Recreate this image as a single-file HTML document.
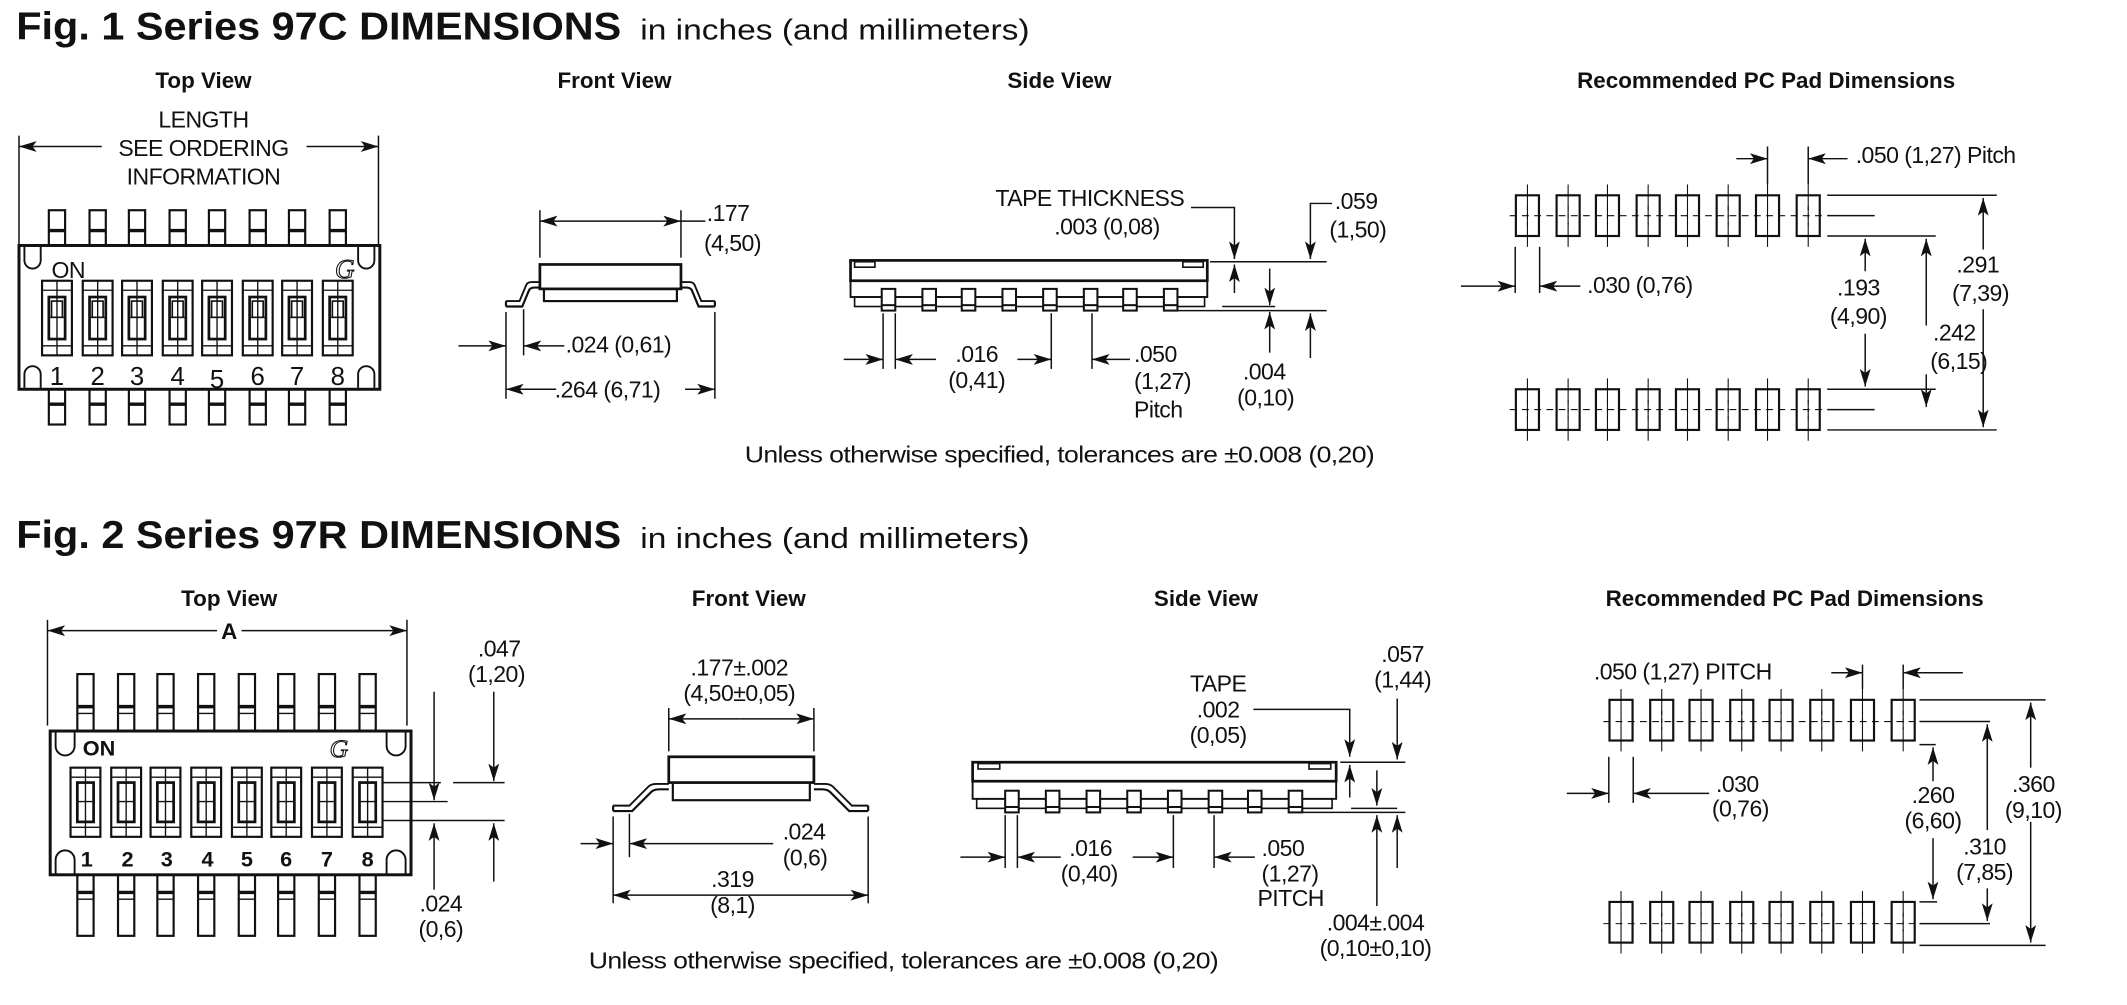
<!DOCTYPE html>
<html><head><meta charset="utf-8"><style>
html,body{margin:0;padding:0;background:#fff;}
svg{display:block;}
text{font-family:"Liberation Sans",sans-serif;fill:#111;}
.t{font-size:17px;letter-spacing:-0.4px;}
.h{font-size:16.5px;font-weight:bold;}
.ti{font-size:29px;font-weight:bold;}
.sub{font-size:21px;}
</style></head><body>
<svg width="2127" height="1005" viewBox="0 0 1568 741" preserveAspectRatio="none" xmlns="http://www.w3.org/2000/svg">
<defs>
<marker id="a" markerUnits="userSpaceOnUse" markerWidth="13" markerHeight="8" refX="13" refY="4" orient="auto"><path d="M0,0 L13,4 L0,8 L3,4 z" fill="#111"/></marker>
<g id="pinT"><rect x="-6" y="0" width="12" height="26" fill="#fff" stroke="#111" stroke-width="1.6"/><line x1="-6" y1="15" x2="6" y2="15" stroke="#111" stroke-width="2.5"/></g>
<g id="pinB"><rect x="-6" y="0" width="12" height="26" fill="#fff" stroke="#111" stroke-width="1.6"/><line x1="-6" y1="11" x2="6" y2="11" stroke="#111" stroke-width="2.5"/></g>
<g id="sw" fill="none" stroke="#111"><rect x="-11" y="0" width="22" height="55" stroke-width="1.6"/><line x1="-11" y1="7" x2="11" y2="7" stroke-width="1"/><line x1="-11" y1="48" x2="11" y2="48" stroke-width="1"/><line x1="0" y1="0" x2="0" y2="55" stroke-width="1"/><rect x="-6" y="12" width="12" height="31" stroke-width="2"/><rect x="-4" y="15" width="8" height="12" stroke-width="1.2"/><line x1="-6" y1="27" x2="6" y2="27" stroke-width="1"/></g>
<g id="pinT2"><rect x="-6" y="0" width="12" height="42" fill="#fff" stroke="#111" stroke-width="1.6"/><line x1="-6" y1="24" x2="6" y2="24" stroke="#111" stroke-width="2.5"/><line x1="-6" y1="29" x2="6" y2="29" stroke="#111" stroke-width="1"/></g>
<g id="pinB2"><rect x="-6" y="0" width="12" height="45" fill="#fff" stroke="#111" stroke-width="1.6"/><line x1="-6" y1="13" x2="6" y2="13" stroke="#111" stroke-width="2.5"/><line x1="-6" y1="18" x2="6" y2="18" stroke="#111" stroke-width="1"/></g>
<g id="sw2" fill="none" stroke="#111"><rect x="-11" y="0" width="22" height="51" stroke-width="1.6"/><line x1="-11" y1="7" x2="11" y2="7" stroke-width="1"/><line x1="-11" y1="44" x2="11" y2="44" stroke-width="1"/><line x1="0" y1="0" x2="0" y2="51" stroke-width="1"/><rect x="-6" y="11" width="12" height="29" stroke-width="2"/><line x1="-6" y1="25" x2="6" y2="25" stroke-width="1"/></g>
<g id="pad" fill="none" stroke="#111"><rect x="-8.5" y="0" width="17" height="30" stroke-width="1.6"/><line x1="0" y1="-8" x2="0" y2="38" stroke-width="0.8"/><line x1="0" y1="8" x2="0" y2="22" stroke-width="0.8" stroke-dasharray="3,3"/></g>
<g id="leg" fill="#fff" stroke="#111" stroke-width="1.5"><rect x="-5" y="0" width="10" height="16"/><line x1="-5" y1="12" x2="5" y2="12"/></g>
</defs>

<!-- ================= FIG 1 ================= -->
<text x="12" y="29" class="ti" textLength="446" lengthAdjust="spacingAndGlyphs">Fig. 1 Series 97C DIMENSIONS</text>
<text x="472" y="29" class="sub" textLength="287" lengthAdjust="spacingAndGlyphs">in inches (and millimeters)</text>
<text x="150" y="65" class="h" text-anchor="middle">Top View</text>
<text x="453" y="65" class="h" text-anchor="middle">Front View</text>
<text x="781" y="65" class="h" text-anchor="middle">Side View</text>
<text x="1302" y="65" class="h" text-anchor="middle">Recommended PC Pad Dimensions</text>

<!-- Top view 97C -->
<g stroke="#111" stroke-width="1.1" fill="none">
<line x1="14" y1="100" x2="14" y2="180"/><line x1="279" y1="100" x2="279" y2="180"/>
<line x1="75" y1="108" x2="14" y2="108" marker-end="url(#a)"/>
<line x1="226" y1="108" x2="279" y2="108" marker-end="url(#a)"/>
</g>
<text x="150" y="94" class="t" text-anchor="middle">LENGTH</text>
<text x="150" y="115" class="t" text-anchor="middle">SEE ORDERING</text>
<text x="150" y="136" class="t" text-anchor="middle">INFORMATION</text>
<use href="#pinT" x="42" y="155"/><use href="#pinT" x="72" y="155"/><use href="#pinT" x="101" y="155"/><use href="#pinT" x="131" y="155"/><use href="#pinT" x="160" y="155"/><use href="#pinT" x="190" y="155"/><use href="#pinT" x="219" y="155"/><use href="#pinT" x="249" y="155"/>
<use href="#pinB" x="42" y="287"/><use href="#pinB" x="72" y="287"/><use href="#pinB" x="101" y="287"/><use href="#pinB" x="131" y="287"/><use href="#pinB" x="160" y="287"/><use href="#pinB" x="190" y="287"/><use href="#pinB" x="219" y="287"/><use href="#pinB" x="249" y="287"/>
<rect x="14" y="181" width="266" height="106" fill="#fff" stroke="#111" stroke-width="2.2"/>
<g stroke="#111" stroke-width="1.4" fill="none">
<path d="M18,182 V192 A6,6 0 0 0 30,192 V182"/><path d="M264,182 V192 A6,6 0 0 0 276,192 V182"/>
<path d="M18,286 V276 A6,6 0 0 1 30,276 V286"/><path d="M264,286 V276 A6,6 0 0 1 276,276 V286"/>
</g>
<text x="38" y="205" class="t">ON</text>
<text x="247" y="205" style="font-family:'Liberation Serif',serif;font-style:italic;font-size:20px;fill:none;stroke:#111;stroke-width:0.8">G</text>
<use href="#sw" x="42" y="207"/><use href="#sw" x="72" y="207"/><use href="#sw" x="101" y="207"/><use href="#sw" x="131" y="207"/><use href="#sw" x="160" y="207"/><use href="#sw" x="190" y="207"/><use href="#sw" x="219" y="207"/><use href="#sw" x="249" y="207"/>
<text x="42" y="284" text-anchor="middle" style="font-size:19px">1</text><text x="72" y="284" text-anchor="middle" style="font-size:19px">2</text><text x="101" y="284" text-anchor="middle" style="font-size:19px">3</text><text x="131" y="284" text-anchor="middle" style="font-size:19px">4</text><text x="160" y="286" text-anchor="middle" style="font-size:19px">5</text><text x="190" y="284" text-anchor="middle" style="font-size:19px">6</text><text x="219" y="284" text-anchor="middle" style="font-size:19px">7</text><text x="249" y="284" text-anchor="middle" style="font-size:19px">8</text>

<!-- Front view 97C -->
<g stroke="#111" fill="none">
<rect x="398" y="195" width="104" height="18" stroke-width="2"/>
<rect x="401" y="213" width="98" height="9" stroke-width="1.6"/>
<path d="M373,226 H385 L390,214 Q391,212 394,212 H398" stroke-width="1.6"/>
<path d="M373,222 H383 L388,210 Q389,208 392,208 H398" stroke-width="1.4"/>
<path d="M527,226 H515 L510,214 Q509,212 506,212 H502" stroke-width="1.6"/>
<path d="M527,222 H517 L512,210 Q511,208 508,208 H502" stroke-width="1.4"/>
<line x1="373" y1="222" x2="373" y2="226" stroke-width="1.6"/><line x1="527" y1="222" x2="527" y2="226" stroke-width="1.6"/>
<g stroke-width="1.1">
<line x1="398" y1="155" x2="398" y2="190"/><line x1="502" y1="155" x2="502" y2="190"/>
<line x1="450" y1="163" x2="398" y2="163" marker-end="url(#a)"/><line x1="450" y1="163" x2="502" y2="163" marker-end="url(#a)"/>
<line x1="502" y1="163" x2="520" y2="163"/>
<line x1="373" y1="230" x2="373" y2="294"/><line x1="386" y1="228" x2="386" y2="262"/><line x1="527" y1="230" x2="527" y2="294"/>
<line x1="338" y1="255" x2="373" y2="255" marker-end="url(#a)"/>
<line x1="416" y1="255" x2="386" y2="255" marker-end="url(#a)"/>
<line x1="410" y1="287" x2="373" y2="287" marker-end="url(#a)"/>
<line x1="505" y1="287" x2="527" y2="287" marker-end="url(#a)"/>
</g></g>
<text x="521" y="163" class="t">.177</text>
<text x="519" y="185" class="t">(4,50)</text>
<text x="417" y="260" class="t">.024 (0,61)</text>
<text x="409" y="293" class="t">.264 (6,71)</text>

<!-- Side view 97C -->
<g stroke="#111" fill="none">
<rect x="627" y="192" width="263" height="15" stroke-width="2" fill="#fff"/>
<rect x="630" y="193" width="15" height="4" stroke-width="1.2"/><rect x="872" y="193" width="15" height="4" stroke-width="1.2"/>
<rect x="627" y="207" width="263" height="12" stroke-width="1.4"/>
<rect x="630" y="219" width="258" height="7" stroke-width="1.2"/>
</g>
<use href="#leg" x="655" y="213"/><use href="#leg" x="685" y="213"/><use href="#leg" x="714" y="213"/><use href="#leg" x="744" y="213"/><use href="#leg" x="774" y="213"/><use href="#leg" x="804" y="213"/><use href="#leg" x="833" y="213"/><use href="#leg" x="863" y="213"/>
<g stroke="#111" stroke-width="1.1" fill="none">
<line x1="892" y1="193" x2="978" y2="193"/><line x1="863" y1="229" x2="978" y2="229"/><line x1="901" y1="226" x2="940" y2="226"/>
<polyline points="878,153 910,153 910,191" marker-end="url(#a)"/>
<line x1="910" y1="216" x2="910" y2="195" marker-end="url(#a)"/>
<polyline points="982,150 966,150 966,191" marker-end="url(#a)"/>
<line x1="966" y1="264" x2="966" y2="231" marker-end="url(#a)"/>
<line x1="936" y1="198" x2="936" y2="225" marker-end="url(#a)"/>
<line x1="936" y1="260" x2="936" y2="230" marker-end="url(#a)"/>
<line x1="651" y1="231" x2="651" y2="272"/><line x1="660" y1="231" x2="660" y2="272"/><line x1="775" y1="231" x2="775" y2="272"/><line x1="805" y1="231" x2="805" y2="272"/>
<line x1="622" y1="265" x2="651" y2="265" marker-end="url(#a)"/>
<line x1="690" y1="265" x2="660" y2="265" marker-end="url(#a)"/>
<line x1="750" y1="265" x2="775" y2="265" marker-end="url(#a)"/>
<line x1="833" y1="265" x2="805" y2="265" marker-end="url(#a)"/>
</g>
<text x="873" y="152" class="t" text-anchor="end">TAPE THICKNESS</text>
<text x="855" y="173" class="t" text-anchor="end">.003 (0,08)</text>
<text x="984" y="154" class="t">.059</text>
<text x="980" y="175" class="t">(1,50)</text>
<text x="932" y="280" class="t" text-anchor="middle">.004</text>
<text x="933" y="299" class="t" text-anchor="middle">(0,10)</text>
<text x="720" y="267" class="t" text-anchor="middle">.016</text>
<text x="720" y="286" class="t" text-anchor="middle">(0,41)</text>
<text x="836" y="267" class="t">.050</text>
<text x="836" y="287" class="t">(1,27)</text>
<text x="836" y="308" class="t">Pitch</text>
<text x="549" y="341" class="t" textLength="464" lengthAdjust="spacingAndGlyphs">Unless otherwise specified, tolerances are  ±0.008 (0,20)</text>

<!-- PC pads 97C -->
<g>
<line x1="1113" y1="159" x2="1343" y2="159" stroke="#111" stroke-width="0.8" stroke-dasharray="5,4"/>
<line x1="1113" y1="302" x2="1343" y2="302" stroke="#111" stroke-width="0.8" stroke-dasharray="5,4"/>
<use href="#pad" x="1126" y="144"/><use href="#pad" x="1156" y="144"/><use href="#pad" x="1185" y="144"/><use href="#pad" x="1215" y="144"/><use href="#pad" x="1244" y="144"/><use href="#pad" x="1274" y="144"/><use href="#pad" x="1303" y="144"/><use href="#pad" x="1333" y="144"/>
<use href="#pad" x="1126" y="287"/><use href="#pad" x="1156" y="287"/><use href="#pad" x="1185" y="287"/><use href="#pad" x="1215" y="287"/><use href="#pad" x="1244" y="287"/><use href="#pad" x="1274" y="287"/><use href="#pad" x="1303" y="287"/><use href="#pad" x="1333" y="287"/>
</g>
<g stroke="#111" stroke-width="1.1" fill="none">
<line x1="1347" y1="144" x2="1472" y2="144"/><line x1="1347" y1="159" x2="1382" y2="159"/><line x1="1347" y1="174" x2="1427" y2="174"/>
<line x1="1347" y1="287" x2="1427" y2="287"/><line x1="1347" y1="302" x2="1382" y2="302"/><line x1="1347" y1="317" x2="1472" y2="317"/>
<line x1="1303" y1="108" x2="1303" y2="136"/><line x1="1333" y1="108" x2="1333" y2="136"/>
<line x1="1280" y1="117" x2="1303" y2="117" marker-end="url(#a)"/>
<line x1="1362" y1="117" x2="1333" y2="117" marker-end="url(#a)"/>
<line x1="1117" y1="182" x2="1117" y2="216"/><line x1="1135" y1="182" x2="1135" y2="216"/>
<line x1="1077" y1="211" x2="1117" y2="211" marker-end="url(#a)"/>
<line x1="1165" y1="211" x2="1135" y2="211" marker-end="url(#a)"/>
<line x1="1375" y1="200" x2="1375" y2="176" marker-end="url(#a)"/>
<line x1="1375" y1="246" x2="1375" y2="285" marker-end="url(#a)"/>
<line x1="1420" y1="240" x2="1420" y2="176" marker-end="url(#a)"/>
<line x1="1420" y1="276" x2="1420" y2="300" marker-end="url(#a)"/>
<line x1="1462" y1="184" x2="1462" y2="146" marker-end="url(#a)"/>
<line x1="1462" y1="228" x2="1462" y2="315" marker-end="url(#a)"/>
</g>
<text x="1368" y="120" class="t">.050 (1,27) Pitch</text>
<text x="1170" y="216" class="t">.030 (0,76)</text>
<text x="1370" y="218" class="t" text-anchor="middle">.193</text>
<text x="1370" y="239" class="t" text-anchor="middle">(4,90)</text>
<text x="1425" y="251" class="t">.242</text>
<text x="1423" y="272" class="t">(6,15)</text>
<text x="1458" y="201" class="t" text-anchor="middle">.291</text>
<text x="1460" y="222" class="t" text-anchor="middle">(7,39)</text>

<!-- ================= FIG 2 ================= -->
<text x="12" y="404" class="ti" textLength="446" lengthAdjust="spacingAndGlyphs">Fig. 2 Series 97R DIMENSIONS</text>
<text x="472" y="404" class="sub" textLength="287" lengthAdjust="spacingAndGlyphs">in inches (and millimeters)</text>
<text x="169" y="447" class="h" text-anchor="middle">Top View</text>
<text x="552" y="447" class="h" text-anchor="middle">Front View</text>
<text x="889" y="447" class="h" text-anchor="middle">Side View</text>
<text x="1323" y="447" class="h" text-anchor="middle">Recommended PC Pad Dimensions</text>

<!-- Top view 97R -->
<g stroke="#111" stroke-width="1.1" fill="none">
<line x1="35" y1="457" x2="35" y2="535"/><line x1="300" y1="457" x2="300" y2="535"/>
<line x1="160" y1="465" x2="35" y2="465" marker-end="url(#a)"/>
<line x1="178" y1="465" x2="300" y2="465" marker-end="url(#a)"/>
</g>
<text x="169" y="471" class="h" text-anchor="middle">A</text>
<use href="#pinT2" x="63" y="497"/><use href="#pinT2" x="93" y="497"/><use href="#pinT2" x="122" y="497"/><use href="#pinT2" x="152" y="497"/><use href="#pinT2" x="182" y="497"/><use href="#pinT2" x="211" y="497"/><use href="#pinT2" x="241" y="497"/><use href="#pinT2" x="271" y="497"/>
<use href="#pinB2" x="63" y="645"/><use href="#pinB2" x="93" y="645"/><use href="#pinB2" x="122" y="645"/><use href="#pinB2" x="152" y="645"/><use href="#pinB2" x="182" y="645"/><use href="#pinB2" x="211" y="645"/><use href="#pinB2" x="241" y="645"/><use href="#pinB2" x="271" y="645"/>
<rect x="37" y="539" width="266" height="106" fill="#fff" stroke="#111" stroke-width="2.2"/>
<g stroke="#111" stroke-width="1.4" fill="none">
<path d="M41,540 V550 A7,7 0 0 0 55,550 V540"/><path d="M285,540 V550 A7,7 0 0 0 299,550 V540"/>
<path d="M41,644 V634 A7,7 0 0 1 55,634 V644"/><path d="M285,644 V634 A7,7 0 0 1 299,634 V644"/>
</g>
<text x="61" y="557" style="font-size:16px;font-weight:bold">ON</text>
<text x="243" y="558" style="font-family:'Liberation Serif',serif;font-style:italic;font-size:19px;fill:none;stroke:#111;stroke-width:0.8">G</text>
<use href="#sw2" x="63" y="566"/><use href="#sw2" x="93" y="566"/><use href="#sw2" x="122" y="566"/><use href="#sw2" x="152" y="566"/><use href="#sw2" x="182" y="566"/><use href="#sw2" x="211" y="566"/><use href="#sw2" x="241" y="566"/><use href="#sw2" x="271" y="566"/>
<text x="64" y="639" text-anchor="middle" style="font-size:16px;font-weight:bold">1</text><text x="94" y="639" text-anchor="middle" style="font-size:16px;font-weight:bold">2</text><text x="123" y="639" text-anchor="middle" style="font-size:16px;font-weight:bold">3</text><text x="153" y="639" text-anchor="middle" style="font-size:16px;font-weight:bold">4</text><text x="182" y="639" text-anchor="middle" style="font-size:16px;font-weight:bold">5</text><text x="211" y="639" text-anchor="middle" style="font-size:16px;font-weight:bold">6</text><text x="241" y="639" text-anchor="middle" style="font-size:16px;font-weight:bold">7</text><text x="271" y="639" text-anchor="middle" style="font-size:16px;font-weight:bold">8</text>
<g stroke="#111" stroke-width="1.1" fill="none">
<line x1="282" y1="577" x2="325" y2="577"/><line x1="334" y1="577" x2="372" y2="577"/>
<line x1="282" y1="591" x2="330" y2="591"/>
<line x1="282" y1="605" x2="372" y2="605"/>
<line x1="320" y1="510" x2="320" y2="590" marker-end="url(#a)"/>
<line x1="364" y1="510" x2="364" y2="576" marker-end="url(#a)"/>
<line x1="320" y1="656" x2="320" y2="607" marker-end="url(#a)"/>
<line x1="364" y1="650" x2="364" y2="607" marker-end="url(#a)"/>
</g>
<text x="368" y="484" class="t" text-anchor="middle">.047</text>
<text x="366" y="503" class="t" text-anchor="middle">(1,20)</text>
<text x="325" y="672" class="t" text-anchor="middle">.024</text>
<text x="325" y="691" class="t" text-anchor="middle">(0,6)</text>

<!-- Front view 97R -->
<g stroke="#111" fill="none">
<rect x="493" y="558" width="107" height="19" stroke-width="2"/>
<rect x="496" y="577" width="101" height="13" stroke-width="1.6"/>
<path d="M452,598 H466 L480,584 Q482,582 486,582 H493" stroke-width="1.6"/>
<path d="M452,594 H464 L478,580 Q480,578 484,578 H493" stroke-width="1.4"/>
<path d="M640,598 H626 L612,584 Q610,582 606,582 H600" stroke-width="1.6"/>
<path d="M640,594 H628 L614,580 Q612,578 608,578 H600" stroke-width="1.4"/>
<line x1="452" y1="594" x2="452" y2="598" stroke-width="1.6"/><line x1="640" y1="594" x2="640" y2="598" stroke-width="1.6"/>
<g stroke-width="1.1">
<line x1="493" y1="522" x2="493" y2="554"/><line x1="600" y1="522" x2="600" y2="554"/>
<line x1="546" y1="530" x2="493" y2="530" marker-end="url(#a)"/><line x1="546" y1="530" x2="600" y2="530" marker-end="url(#a)"/>
<line x1="452" y1="602" x2="452" y2="666"/><line x1="464" y1="600" x2="464" y2="632"/><line x1="640" y1="602" x2="640" y2="666"/>
<line x1="428" y1="622" x2="452" y2="622" marker-end="url(#a)"/>
<line x1="570" y1="622" x2="464" y2="622" marker-end="url(#a)"/>
<line x1="546" y1="660" x2="452" y2="660" marker-end="url(#a)"/>
<line x1="546" y1="660" x2="640" y2="660" marker-end="url(#a)"/>
</g></g>
<text x="545" y="498" class="t" text-anchor="middle">.177±.002</text>
<text x="545" y="517" class="t" text-anchor="middle">(4,50±0,05)</text>
<text x="577" y="619" class="t">.024</text>
<text x="577" y="638" class="t">(0,6)</text>
<rect x="520" y="640" width="44" height="14" fill="#fff"/>
<text x="540" y="654" class="t" text-anchor="middle">.319</text>
<rect x="518" y="662" width="44" height="14" fill="#fff"/>
<text x="540" y="673" class="t" text-anchor="middle">(8,1)</text>

<!-- Side view 97R -->
<g stroke="#111" fill="none">
<rect x="717" y="562" width="268" height="14" stroke-width="2" fill="#fff"/>
<rect x="721" y="563" width="16" height="4" stroke-width="1.2"/><rect x="965" y="563" width="16" height="4" stroke-width="1.2"/>
<rect x="717" y="576" width="268" height="13" stroke-width="1.4"/>
<rect x="720" y="589" width="262" height="7" stroke-width="1.2"/>
</g>
<use href="#leg" x="746" y="583"/><use href="#leg" x="776" y="583"/><use href="#leg" x="806" y="583"/><use href="#leg" x="836" y="583"/><use href="#leg" x="866" y="583"/><use href="#leg" x="896" y="583"/><use href="#leg" x="925" y="583"/><use href="#leg" x="955" y="583"/>
<g stroke="#111" stroke-width="1.1" fill="none">
<line x1="988" y1="562" x2="1036" y2="562"/><line x1="960" y1="599" x2="1036" y2="599"/><line x1="996" y1="596" x2="1030" y2="596"/>
<polyline points="924,523 995,523 995,558" marker-end="url(#a)"/>
<line x1="995" y1="588" x2="995" y2="564" marker-end="url(#a)"/>
<line x1="1030" y1="515" x2="1030" y2="560" marker-end="url(#a)"/>
<line x1="1030" y1="640" x2="1030" y2="601" marker-end="url(#a)"/>
<line x1="1015" y1="568" x2="1015" y2="594" marker-end="url(#a)"/>
<line x1="1015" y1="668" x2="1015" y2="601" marker-end="url(#a)"/>
<line x1="741" y1="601" x2="741" y2="640"/><line x1="750" y1="601" x2="750" y2="640"/><line x1="865" y1="601" x2="865" y2="640"/><line x1="895" y1="601" x2="895" y2="640"/>
<line x1="708" y1="632" x2="741" y2="632" marker-end="url(#a)"/>
<line x1="782" y1="632" x2="750" y2="632" marker-end="url(#a)"/>
<line x1="835" y1="632" x2="865" y2="632" marker-end="url(#a)"/>
<line x1="925" y1="632" x2="895" y2="632" marker-end="url(#a)"/>
</g>
<text x="898" y="510" class="t" text-anchor="middle">TAPE</text>
<text x="898" y="529" class="t" text-anchor="middle">.002</text>
<text x="898" y="548" class="t" text-anchor="middle">(0,05)</text>
<text x="1034" y="488" class="t" text-anchor="middle">.057</text>
<text x="1034" y="507" class="t" text-anchor="middle">(1,44)</text>
<text x="1014" y="686" class="t" text-anchor="middle">.004±.004</text>
<text x="1014" y="705" class="t" text-anchor="middle">(0,10±0,10)</text>
<text x="804" y="631" class="t" text-anchor="middle">.016</text>
<text x="803" y="650" class="t" text-anchor="middle">(0,40)</text>
<text x="930" y="631" class="t">.050</text>
<text x="930" y="650" class="t">(1,27)</text>
<text x="927" y="668" class="t">PITCH</text>
<text x="434" y="714" class="t" textLength="464" lengthAdjust="spacingAndGlyphs">Unless otherwise specified, tolerances are  ±0.008 (0,20)</text>

<!-- PC pads 97R -->
<g>
<line x1="1182" y1="532" x2="1412" y2="532" stroke="#111" stroke-width="0.8" stroke-dasharray="5,4"/>
<line x1="1182" y1="681" x2="1412" y2="681" stroke="#111" stroke-width="0.8" stroke-dasharray="5,4"/>
<use href="#pad" x="1195" y="516"/><use href="#pad" x="1225" y="516"/><use href="#pad" x="1254" y="516"/><use href="#pad" x="1284" y="516"/><use href="#pad" x="1313" y="516"/><use href="#pad" x="1343" y="516"/><use href="#pad" x="1373" y="516"/><use href="#pad" x="1403" y="516"/>
<use href="#pad" x="1195" y="665"/><use href="#pad" x="1225" y="665"/><use href="#pad" x="1254" y="665"/><use href="#pad" x="1284" y="665"/><use href="#pad" x="1313" y="665"/><use href="#pad" x="1343" y="665"/><use href="#pad" x="1373" y="665"/><use href="#pad" x="1403" y="665"/>
</g>
<g stroke="#111" stroke-width="1.1" fill="none">
<line x1="1415" y1="516" x2="1508" y2="516"/><line x1="1415" y1="532" x2="1467" y2="532"/><line x1="1415" y1="549" x2="1427" y2="549"/>
<line x1="1415" y1="665" x2="1428" y2="665"/><line x1="1415" y1="681" x2="1467" y2="681"/><line x1="1415" y1="697" x2="1508" y2="697"/>
<line x1="1373" y1="490" x2="1373" y2="508"/><line x1="1403" y1="490" x2="1403" y2="508"/>
<line x1="1350" y1="496" x2="1373" y2="496" marker-end="url(#a)"/>
<line x1="1447" y1="496" x2="1403" y2="496" marker-end="url(#a)"/>
<line x1="1186" y1="558" x2="1186" y2="592"/><line x1="1204" y1="558" x2="1204" y2="592"/>
<line x1="1155" y1="585" x2="1186" y2="585" marker-end="url(#a)"/>
<line x1="1260" y1="585" x2="1204" y2="585" marker-end="url(#a)"/>
<line x1="1425" y1="576" x2="1425" y2="551" marker-end="url(#a)"/>
<line x1="1425" y1="618" x2="1425" y2="663" marker-end="url(#a)"/>
<line x1="1465" y1="612" x2="1465" y2="534" marker-end="url(#a)"/>
<line x1="1465" y1="655" x2="1465" y2="679" marker-end="url(#a)"/>
<line x1="1497" y1="566" x2="1497" y2="518" marker-end="url(#a)"/>
<line x1="1497" y1="606" x2="1497" y2="695" marker-end="url(#a)"/>
</g>
<text x="1175" y="501" class="t">.050 (1,27) PITCH</text>
<text x="1265" y="584" class="t">.030</text>
<text x="1262" y="602" class="t">(0,76)</text>
<text x="1425" y="592" class="t" text-anchor="middle">.260</text>
<text x="1425" y="611" class="t" text-anchor="middle">(6,60)</text>
<text x="1463" y="630" class="t" text-anchor="middle">.310</text>
<text x="1463" y="649" class="t" text-anchor="middle">(7,85)</text>
<text x="1499" y="584" class="t" text-anchor="middle">.360</text>
<text x="1499" y="603" class="t" text-anchor="middle">(9,10)</text>
</svg>
</body></html>
